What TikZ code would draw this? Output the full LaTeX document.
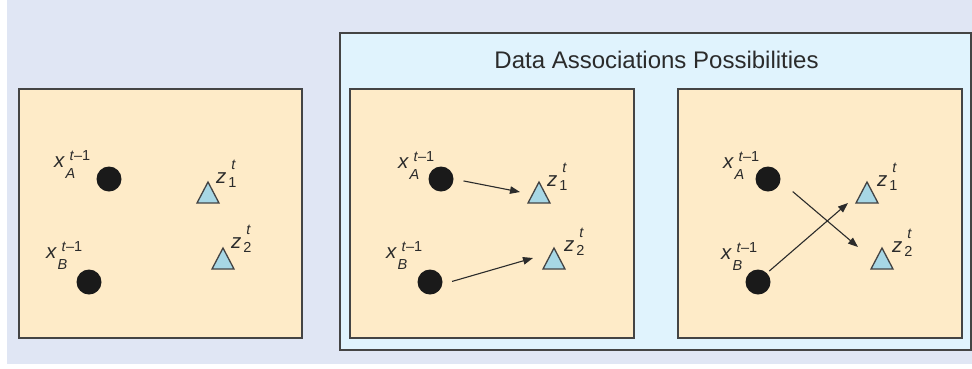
\documentclass[tikz,border=0pt]{standalone}
\usepackage{fontspec}
\setmainfont{Liberation Sans}
\usetikzlibrary{arrows.meta}
\definecolor{bgc}{HTML}{E0E6F4}
\definecolor{outerc}{HTML}{E0F3FD}
\definecolor{panelc}{HTML}{FEEBC8}
\definecolor{tric}{HTML}{A7D7E5}
\definecolor{linec}{HTML}{444444}
\definecolor{dotc}{HTML}{1A1A1A}
\definecolor{txtc}{HTML}{2B2B2B}
\newcommand{\scrfont}{\fontsize{14.5}{14.5}\selectfont}
\newcommand{\xlab}[1]{\textit{x}\rlap{\kern4.5pt\raisebox{7pt}{\scrfont\textit{t}–1}}\kern0.5pt\raisebox{-11pt}{\scrfont\textit{#1}}}
\newcommand{\zlab}[1]{\textit{z}\rlap{\kern5pt\raisebox{13.5pt}{\scrfont\textit{t}}}\kern2pt\raisebox{-4.5pt}{\scrfont #1}}
\begin{document}
\begin{tikzpicture}[x=1pt,y=-1pt,
  panelbox/.style={draw=linec,line width=2pt,fill=panelc},
  outerbox/.style={draw=linec,line width=2pt,fill=outerc},
  dot/.style={circle,fill=dotc,draw=none,inner sep=0pt,minimum size=25pt},
  tri/.style={draw=linec,line width=1.3pt,fill=tric,line join=miter},
  lab/.style={anchor=base west,inner sep=0pt,text=txtc,font=\fontsize{20.5}{20.5}\selectfont},
  titletext/.style={anchor=base,inner sep=0pt,text=txtc,font=\fontsize{24}{24}\selectfont},
  arr/.style={draw=txtc,line width=1.1pt,-{Triangle[length=10pt,width=7.5pt]}}]
\useasboundingbox (0,0) rectangle (972,368);
\fill[bgc] (7,0) rectangle (972,364);
% outer box
\draw[outerbox] (340,33) rectangle (971,350);
\node[titletext] (ttl) at (656.5,68.5) {Data Associations Possibilities};
% panels
\draw[panelbox] (19,89) rectangle (302,338);
\draw[panelbox] (349.5,89) rectangle (634,338);
\draw[panelbox] (677.5,89) rectangle (962,338);
% ---------- left panel
\node[dot] (lA) at (109,179) {};
\node[dot] (lB) at (89,282) {};
\coordinate (lT1) at (208,182);
\coordinate (lT2) at (223,248);
\draw[tri] (lT1) -- ++(-11,21) -- ++(22,0) -- cycle;
\draw[tri] (lT2) -- ++(-11,21) -- ++(22,0) -- cycle;
\node[lab] (lxA) at (54,167) {\xlab{A}};
\node[lab] (lxB) at (46,258) {\xlab{B}};
\node[lab] (lzA) at (216,183) {\zlab{1}};
\node[lab] (lzB) at (231,248) {\zlab{2}};
% ---------- middle panel
\node[dot] (mA) at (441,179) {};
\node[dot] (mB) at (430,282) {};
\coordinate (mT1) at (539,182);
\coordinate (mT2) at (554,248);
\draw[tri] (mT1) -- ++(-11,21) -- ++(22,0) -- cycle;
\draw[tri] (mT2) -- ++(-11,21) -- ++(22,0) -- cycle;
\node[lab] (mxA) at (398,168) {\xlab{A}};
\node[lab] (mxB) at (386,258) {\xlab{B}};
\node[lab] (mzA) at (547,186) {\zlab{1}};
\node[lab] (mzB) at (564,251) {\zlab{2}};
\coordinate (mE1) at (520,192);
\coordinate (mE2) at (533,258);
\draw[arr,shorten <=10pt] (mA.east) -- (mE1);
\draw[arr,shorten <=10pt] (mB.-10) -- (mE2);
% ---------- right panel
\node[dot] (rA) at (768,179) {};
\node[dot] (rB) at (758,282) {};
\coordinate (rT1) at (867,182);
\coordinate (rT2) at (882,248);
\draw[tri] (rT1) -- ++(-11,21) -- ++(22,0) -- cycle;
\draw[tri] (rT2) -- ++(-11,21) -- ++(22,0) -- cycle;
\node[lab] (rxA) at (723,168) {\xlab{A}};
\node[lab] (rxB) at (721,259) {\xlab{B}};
\node[lab] (rzA) at (877,186) {\zlab{1}};
\node[lab] (rzB) at (892,252) {\zlab{2}};
\coordinate (rE2) at (858,247);
\coordinate (rE1) at (848,203);
\draw[arr,shorten <=16pt] (rA.-10) -- (rE2);
\draw[arr,shorten <=3pt] (rB.45) -- (rE1);
\end{tikzpicture}
\end{document}
